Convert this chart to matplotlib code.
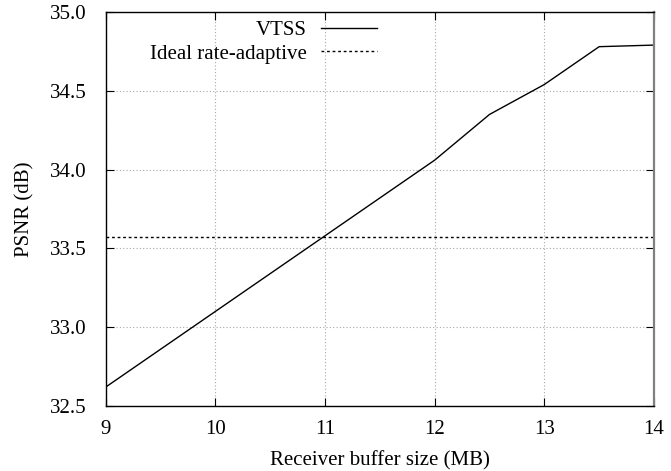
import matplotlib
matplotlib.use("Agg")
import matplotlib.pyplot as plt

buffer_mb = [9, 10, 11, 12, 12.5, 13, 13.5, 14]
vtss_psnr = [32.62, 33.10, 33.58, 34.06, 34.35, 34.54, 34.78, 34.79]
ideal_psnr = 33.575

plt.rcParams['font.family'] = ['Liberation Serif', 'DejaVu Serif']

fig = plt.figure(figsize=(6.71, 4.71), dpi=100)
ax = fig.add_axes([105.7/671, 1-406/471, (654-105.7)/671, (406-12)/471])

ax.plot(buffer_mb, vtss_psnr, color='black', lw=1.0, label='VTSS')
ax.axhline(ideal_psnr, color='black', lw=1.0, ls=(0, (2, 2)), label='Ideal rate-adaptive')

ax.set_xlim(9, 14)
ax.set_ylim(32.5, 35.0)
ax.set_xticks([9, 10, 11, 12, 13, 14])
ax.set_yticks([32.5, 33.0, 33.5, 34.0, 34.5, 35.0])
ax.set_yticklabels(['%.1f' % v for v in [32.5, 33.0, 33.5, 34.0, 34.5, 35.0]])
ax.grid(True, color='#a8a8a8', ls=(0, (1, 2)), lw=0.8)
ax.tick_params(direction='in', top=True, right=True, length=6, labelsize=15)
ax.tick_params(axis='y', pad=14)
ax.tick_params(axis='x', pad=10)
for s in ax.spines.values():
    s.set_linewidth(1.0)
ax.spines['right'].set_color('#808080')
ax.spines['right'].set_linewidth(1.6)

ax.set_xlabel('Receiver buffer size (MB)', fontsize=15, labelpad=9)
ax.set_ylabel('PSNR (dB)', fontsize=15, labelpad=11)

leg = ax.legend(loc='upper right', bbox_to_anchor=(0.51, 1.0), frameon=False, fontsize=15,
                markerfirst=False, handlelength=2.7, handletextpad=0.67, labelspacing=0.2,
                borderaxespad=0.0)
for t in leg.get_texts():
    t.set_ha('right')

fig.savefig('out.png', dpi=100)
